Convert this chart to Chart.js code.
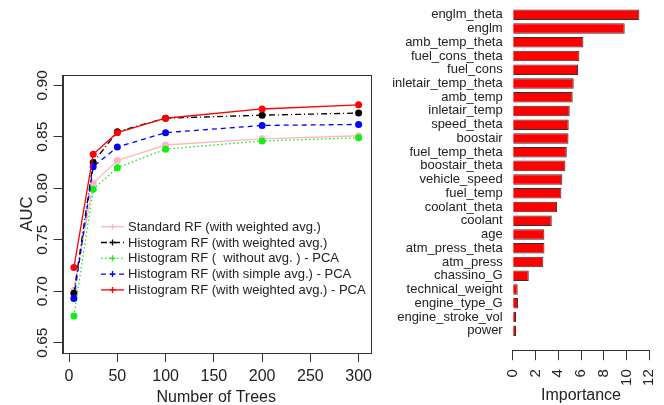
<!DOCTYPE html>
<html>
<head>
<meta charset="utf-8">
<script src="https://cdn.jsdelivr.net/npm/chart.js@4.4.1/dist/chart.umd.min.js"></script>
<style>
body { margin: 0; background: #fff; }
#aucChart { position: absolute; left: 0; top: 0; }
#impChart { position: absolute; left: 380px; top: 0; }
</style>
</head>
<body>
<canvas id="aucChart" width="380" height="405"></canvas>
<canvas id="impChart" width="284" height="405"></canvas>
<script>
// left panel: AUC vs number of trees
var treeCounts = [5, 25, 50, 100, 200, 300];
var standardRF = [0.701, 0.805, 0.827, 0.842, 0.848, 0.851];
var histRF = [0.698, 0.825, 0.855, 0.868, 0.871, 0.873];
var histNoAvgPCA = [0.676, 0.799, 0.820, 0.838, 0.846, 0.849];
var histSimplePCA = [0.693, 0.821, 0.840, 0.854, 0.861, 0.862];
var histWeightedPCA = [0.723, 0.833, 0.854, 0.868, 0.877, 0.881];
var seriesLabels = [
    'Standard RF (with weighted avg.)',
    'Histogram RF (with weighted avg.)',
    'Histogram RF (  without avg. ) - PCA',
    'Histogram RF (with simple avg.) - PCA',
    'Histogram RF (with weighted avg.) - PCA'
];
var treeTicks = [0, 50, 100, 150, 200, 250, 300];
var aucTicks = [0.65, 0.70, 0.75, 0.80, 0.85, 0.90];

// right panel: variable importance
var featureNames = ['englm_theta', 'englm', 'amb_temp_theta', 'fuel_cons_theta', 'fuel_cons',
    'inletair_temp_theta', 'amb_temp', 'inletair_temp', 'speed_theta', 'boostair',
    'fuel_temp_theta', 'boostair_theta', 'vehicle_speed', 'fuel_temp', 'coolant_theta',
    'coolant', 'age', 'atm_press_theta', 'atm_press', 'chassino_G', 'technical_weight',
    'engine_type_G', 'engine_stroke_vol', 'power'];
var importance = [11.13, 9.84, 6.21, 5.86, 5.74, 5.36, 5.27, 5.01, 4.92, 4.90,
    4.75, 4.63, 4.36, 4.28, 3.90, 3.43, 2.78, 2.79, 2.69, 1.41, 0.44,
    0.47, 0.29, 0.29];
var importanceTicks = [0, 2, 4, 6, 8, 10, 12];

var FONT = '"Liberation Sans", Arial, sans-serif';
var INK = '#222';
var AXIS = '#333';
Chart.defaults.font.family = FONT;
Chart.defaults.color = INK;

var lineColors = ['#ffb6c1', '#000000', '#11ee11', '#0000ff', '#ff0000'];
var lineDashes = [[], [6, 3, 1, 3], [1.5, 2.5], [5, 4], []];
var lineSeries = [standardRF, histRF, histNoAvgPCA, histSimplePCA, histWeightedPCA];

function toPoints(values) {
    return values.map(function (v, i) { return { x: treeCounts[i], y: v }; });
}

var aucDatasets = lineSeries.map(function (values, i) {
    return {
        label: seriesLabels[i],
        data: toPoints(values),
        borderColor: lineColors[i],
        backgroundColor: lineColors[i],
        borderDash: lineDashes[i],
        borderWidth: 1.3,
        pointRadius: 3.5,
        pointBorderWidth: 0,
        tension: 0,
        order: 5 - i
    };
});

// box round the plot region, like R's box()
var boxPlugin = {
    id: 'box',
    afterDraw: function (chart) {
        var a = chart.chartArea, ctx = chart.ctx;
        ctx.save();
        ctx.strokeStyle = AXIS;
        ctx.lineWidth = 1;
        ctx.strokeRect(Math.round(a.left) + 0.5, Math.round(a.top) + 0.5,
            Math.round(a.right - a.left), Math.round(a.bottom - a.top));
        ctx.restore();
    }
};

// legend inside the plot with line samples and "+" marks
var legendPlugin = {
    id: 'rLegend',
    afterDraw: function (chart) {
        var ctx = chart.ctx;
        var x0 = 101, x1 = 124, y0 = 226.7, rowH = 15.8;
        ctx.save();
        ctx.font = '13px ' + FONT;
        ctx.textBaseline = 'middle';
        ctx.textAlign = 'left';
        chart.data.datasets.forEach(function (ds, i) {
            var y = y0 + i * rowH;
            ctx.strokeStyle = ds.borderColor;
            ctx.lineWidth = 1.3;
            ctx.setLineDash(ds.borderDash);
            ctx.beginPath();
            ctx.moveTo(x0, y);
            ctx.lineTo(x1, y);
            ctx.stroke();
            ctx.setLineDash([]);
            var cx = (x0 + x1) / 2;
            ctx.beginPath();
            ctx.moveTo(cx - 3, y); ctx.lineTo(cx + 3, y);
            ctx.moveTo(cx, y - 3); ctx.lineTo(cx, y + 3);
            ctx.stroke();
            ctx.fillStyle = INK;
            ctx.fillText(ds.label, 128, y + 0.5);
        });
        ctx.restore();
    }
};

new Chart(document.getElementById('aucChart'), {
    type: 'line',
    data: { datasets: aucDatasets },
    options: {
        responsive: false,
        animation: false,
        layout: { padding: { top: 75, right: 10, left: 0, bottom: 0 } },
        plugins: { legend: { display: false }, tooltip: { enabled: false } },
        scales: {
            x: {
                type: 'linear',
                min: -6.8,
                max: 311.8,
                afterBuildTicks: function (s) { s.ticks = treeTicks.map(function (v) { return { value: v }; }); },
                afterFit: function (s) { s.height = 52; },
                border: { display: true, color: AXIS, width: 1 },
                grid: { display: true, drawOnChartArea: false, drawTicks: true, tickLength: 9, color: AXIS },
                ticks: { font: { size: 16 }, padding: 5, maxRotation: 0, autoSkip: false },
                title: { display: true, text: 'Number of Trees', font: { size: 16 }, padding: { top: 0, bottom: -2 } }
            },
            y: {
                type: 'linear',
                min: 0.64,
                max: 0.91,
                afterBuildTicks: function (s) { s.ticks = aucTicks.map(function (v) { return { value: v }; }); },
                afterFit: function (s) { s.width = 62.5; },
                border: { display: true, color: AXIS, width: 1 },
                grid: { display: true, drawOnChartArea: false, drawTicks: true, tickLength: 9, color: AXIS },
                ticks: {
                    font: { size: 15.5 },
                    minRotation: 90,
                    maxRotation: 90,
                    crossAlign: 'center',
                    padding: -4,
                    autoSkip: false,
                    callback: function (v) { return v.toFixed(2); }
                },
                title: { display: true, text: 'AUC', font: { size: 16.5 }, padding: { top: 18, bottom: 0 } }
            }
        }
    },
    plugins: [boxPlugin, legendPlugin]
});

new Chart(document.getElementById('impChart'), {
    type: 'bar',
    data: {
        datasets: [{
            data: importance.map(function (v, i) { return { x: v, y: i }; }),
            backgroundColor: '#ff0000',
            borderColor: '#333',
            borderWidth: 1,
            categoryPercentage: 0.85,
            barPercentage: 0.9
        }]
    },
    options: {
        indexAxis: 'y',
        responsive: false,
        animation: false,
        layout: { padding: { top: 4, right: 14.7, left: 0, bottom: 0 } },
        plugins: { legend: { display: false }, tooltip: { enabled: false } },
        scales: {
            x: {
                type: 'linear',
                min: 0,
                max: 12,
                afterBuildTicks: function (s) { s.ticks = importanceTicks.map(function (v) { return { value: v }; }); },
                afterFit: function (s) { s.height = 54.3; s.paddingLeft = 0; s.paddingRight = 0; },
                border: { display: true, color: AXIS, width: 1 },
                grid: { display: true, drawOnChartArea: false, drawTicks: true, tickLength: 9.5, color: AXIS },
                ticks: { font: { size: 15 }, minRotation: 90, maxRotation: 90, padding: 9, autoSkip: false },
                title: { display: true, text: 'Importance', font: { size: 16 }, padding: { top: 0, bottom: 0 } }
            },
            y: {
                type: 'linear',
                reverse: true,
                offset: false,
                min: -0.78,
                max: 24.45,
                afterBuildTicks: function (s) { s.ticks = featureNames.map(function (n, i) { return { value: i }; }); },
                afterFit: function (s) { s.width = 132.7; s.paddingTop = 0; s.paddingBottom = 0; },
                border: { display: false },
                grid: { display: false, drawTicks: false },
                ticks: {
                    font: { size: 13 },
                    padding: 10,
                    autoSkip: false,
                    callback: function (v) { return featureNames[v]; }
                }
            }
        }
    }
});
</script>
</body>
</html>
